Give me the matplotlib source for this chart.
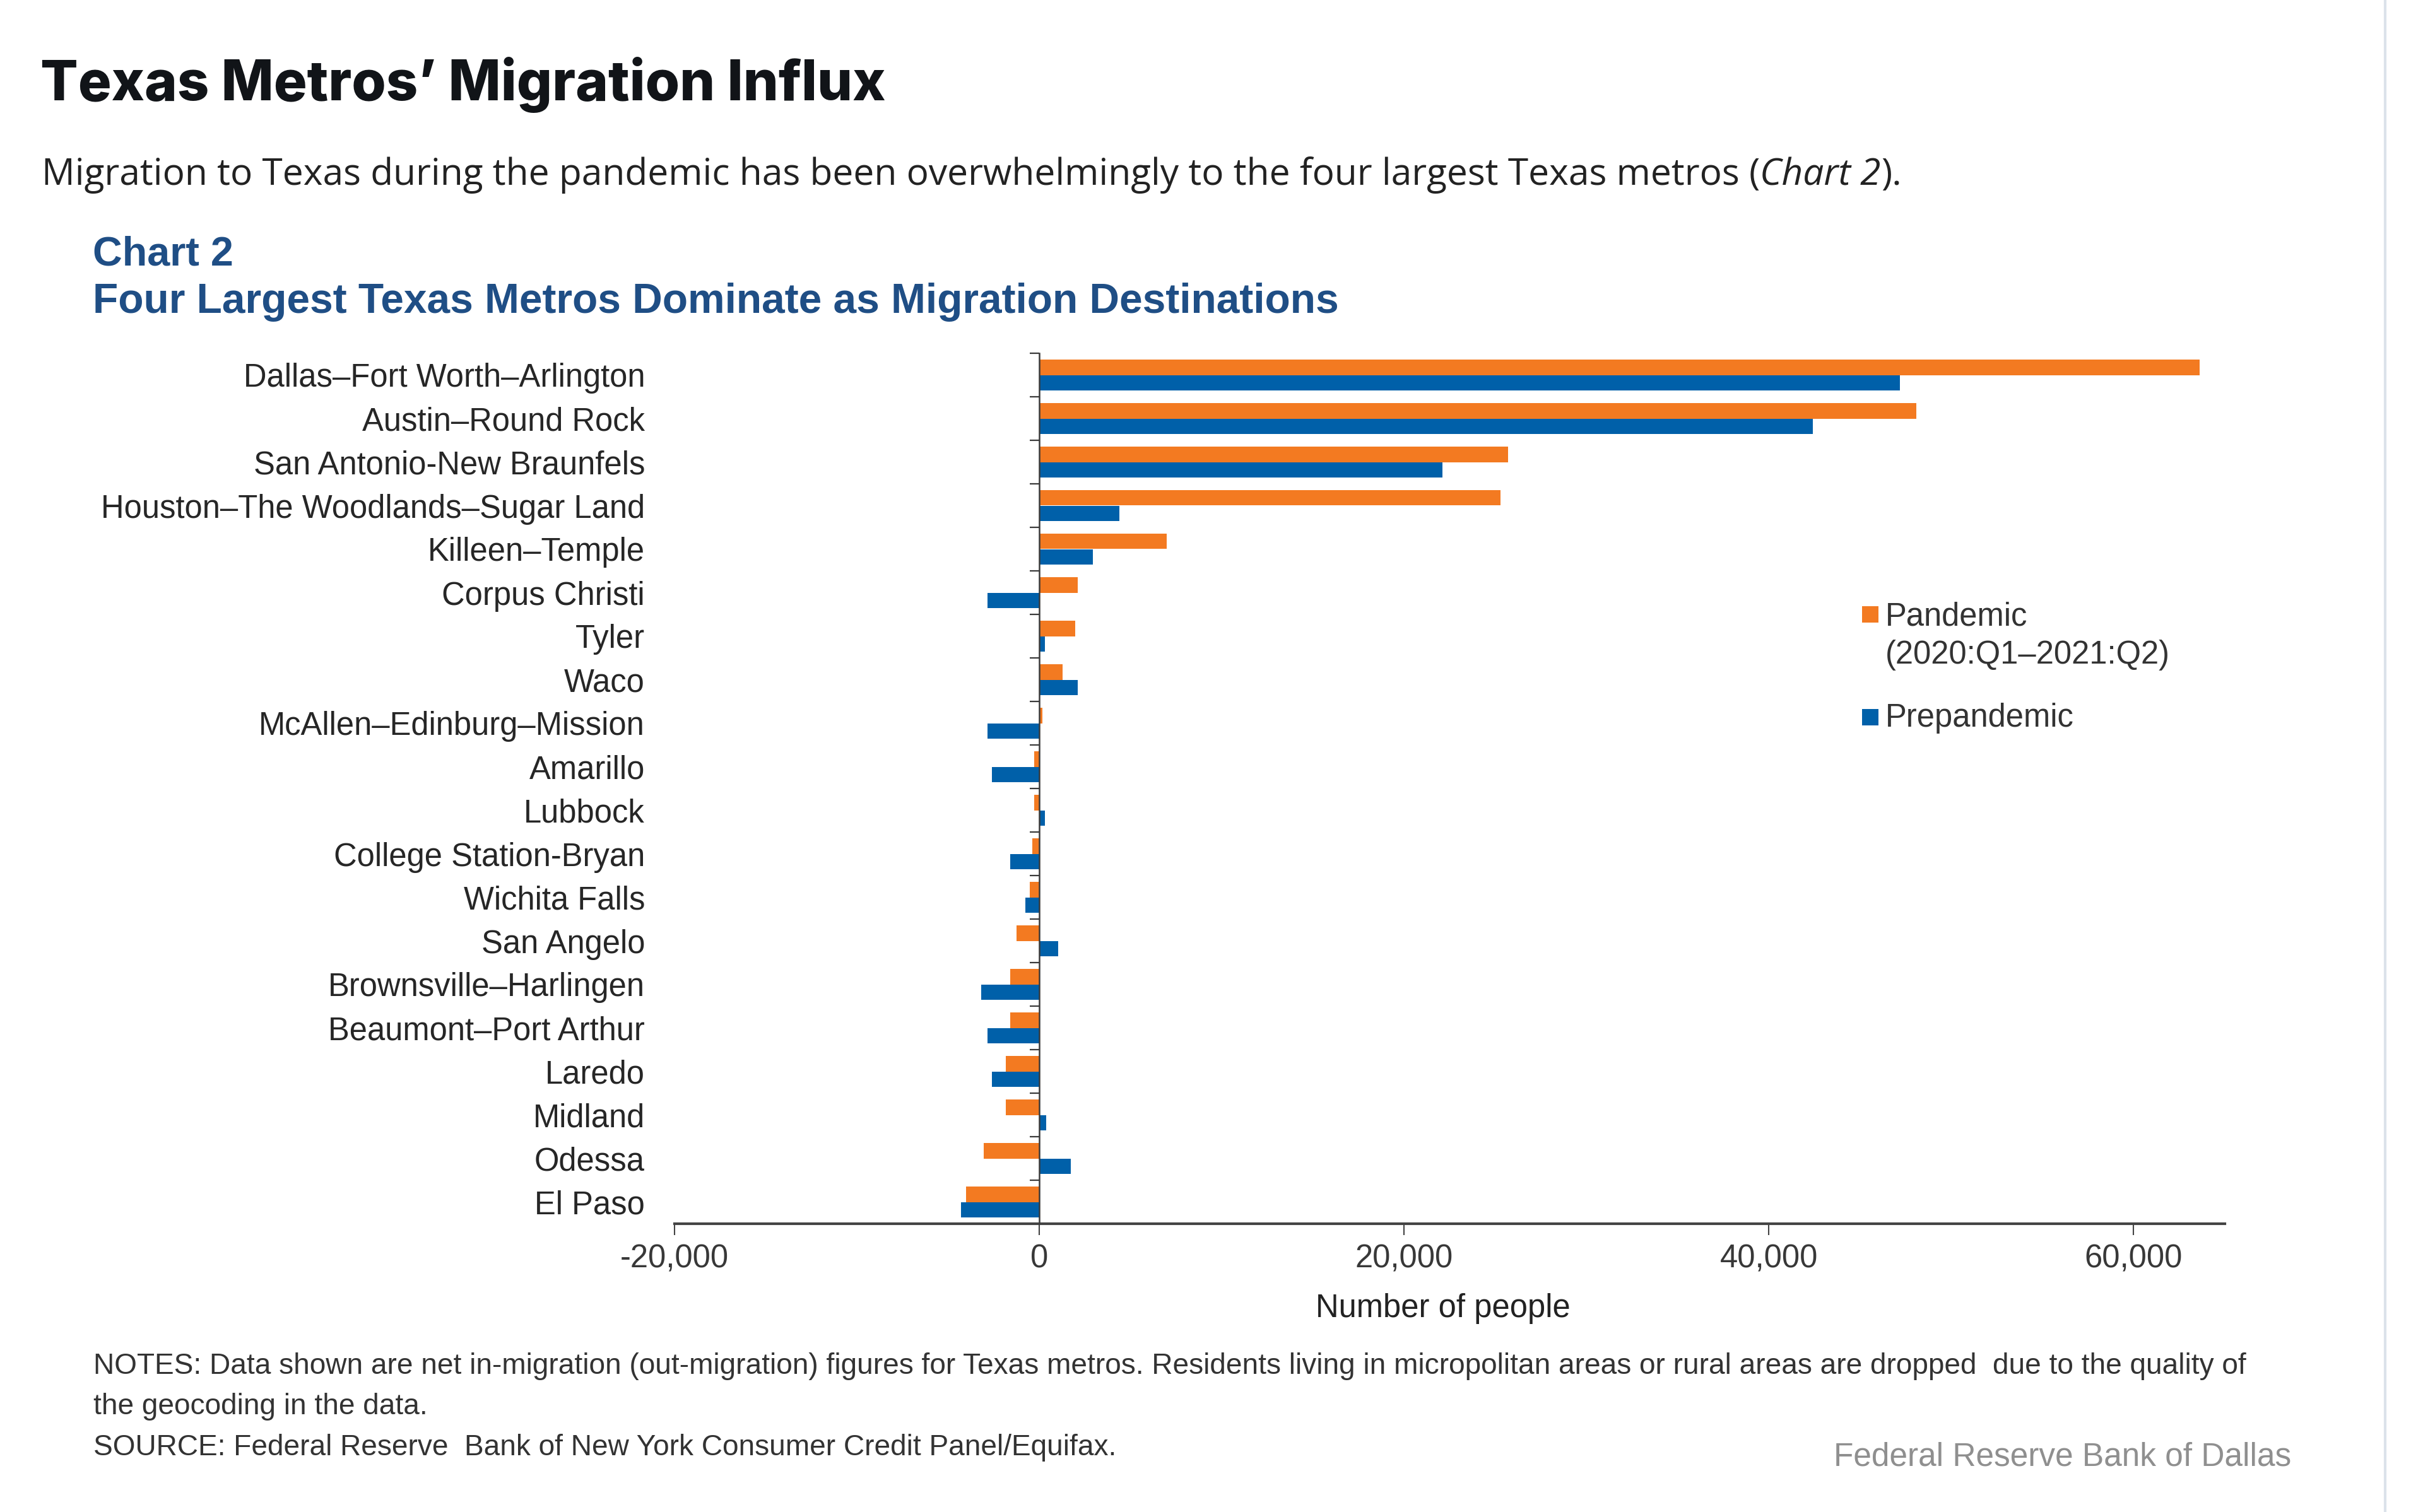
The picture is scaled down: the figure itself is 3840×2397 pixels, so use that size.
import matplotlib
matplotlib.use('Agg')
import matplotlib.pyplot as plt
import numpy as np
from matplotlib import font_manager
from matplotlib.patches import Rectangle
from matplotlib.lines import Line2D
from matplotlib.ticker import FuncFormatter, FixedLocator

# ---------------- data ----------------
categories = [
    "Dallas–Fort Worth–Arlington", "Austin–Round Rock", "San Antonio-New Braunfels",
    "Houston–The Woodlands–Sugar Land", "Killeen–Temple", "Corpus Christi", "Tyler",
    "Waco", "McAllen–Edinburg–Mission", "Amarillo", "Lubbock", "College Station-Bryan",
    "Wichita Falls", "San Angelo", "Brownsville–Harlingen", "Beaumont–Port Arthur",
    "Laredo", "Midland", "Odessa", "El Paso",
]
pandemic = [63600, 48100, 25700, 25300, 6970, 2120, 1980, 1270, 180, -280,
            -280, -390, -530, -1240, -1600, -1600, -1830, -1830, -3050, -4030]
prepandemic = [47200, 42400, 22100, 4380, 2950, -2830, 300, 2120, -2830, -2610,
               300, -1600, -760, 1030, -3200, -2830, -2610, 390, 1730, -4290]
xticks = [-20000, 0, 20000, 40000, 60000]
legend_lines = ["Pandemic", "(2020:Q1–2021:Q2)", "Prepandemic"]

title = "Texas Metros’ Migration Influx"
intro = ["Migration to Texas during the pandemic has been overwhelmingly to the four largest Texas metros (",
         "Chart 2", ")."]
chart_no = "Chart 2"
chart_title = "Four Largest Texas Metros Dominate as Migration Destinations"
xlabel = "Number of people"
notes = ["NOTES: Data shown are net in-migration (out-migration) figures for Texas metros. Residents living in micropolitan areas or rural areas are dropped  due to the quality of",
         "the geocoding in the data.",
         "SOURCE: Federal Reserve  Bank of New York Consumer Credit Panel/Equifax."]
credit = "Federal Reserve Bank of Dallas"

ORANGE = '#F37A21'
BLUE = '#0060A9'
NAVY = '#1F4E85'

# ---------------- fonts ----------------
names = {f.name for f in font_manager.fontManager.ttflist}
def pick(*cands):
    for c in cands:
        if c in names:
            return c
    return 'DejaVu Sans'
SANS = pick('Liberation Sans', 'Arial', 'DejaVu Sans')
NARROW = pick('Liberation Sans Narrow', 'Arial Narrow', 'Liberation Sans')
TITLEF = pick('Inter', 'Lato', 'Open Sans')
BODY = pick('Open Sans', 'Noto Sans', 'Lato')

W, H = 3840, 2397
fig = plt.figure(figsize=(W / 100, H / 100), dpi=100)
fig.patch.set_facecolor('white')
renderer = fig.canvas.get_renderer()

def pw(t):
    return t.get_window_extent(renderer).width

def fit(t, target):
    t.set_fontsize(t.get_fontsize() * target / pw(t))

# ---------------- header ----------------
t = fig.text(64 / W, 1 - 159 / H, title, fontsize=60, fontweight=800,
             family=TITLEF, color='#111418', va='baseline')
fit(t, 1339)

pieces = []
for i, s in enumerate(intro):
    pieces.append(fig.text(66 / W, 1 - 293 / H, s, fontsize=40, family=BODY,
                           style='italic' if i == 1 else 'normal',
                           color='#222222', va='baseline'))
tot = sum(pw(p) for p in pieces)
scale = 2941 / tot
x = 66
for p in pieces:
    p.set_fontsize(p.get_fontsize() * scale)
    p.set_x(x / W)
    x += pw(p)

t = fig.text(147 / W, 1 - 421 / H, chart_no, fontsize=50, fontweight='bold',
             family=NARROW, color=NAVY, va='baseline')
fit(t, 223)
t = fig.text(147 / W, 1 - 496 / H, chart_title, fontsize=50, fontweight='bold',
             family=NARROW, color=NAVY, va='baseline')
fit(t, 1975)

# ---------------- axes ----------------
ax = fig.add_axes([1069 / W, 1 - 1940 / H, (3526 - 1069) / W, (1940 - 560) / H])
y = np.arange(len(categories))
h = 0.36
ax.barh(y - h / 2, pandemic, height=h, color=ORANGE, linewidth=0, zorder=2)
ax.barh(y + h / 2, prepandemic, height=h, color=BLUE, linewidth=0, zorder=2)
ax.set_ylim(len(categories) - 0.5, -0.5)
ax.set_xlim(-20000, 65000)

ax.spines['left'].set_position(('data', 0))
ax.spines['top'].set_visible(False)
ax.spines['right'].set_visible(False)
ax.spines['left'].set_linewidth(1.8)
ax.spines['left'].set_color('#3a3a3a')
ax.spines['left'].set_zorder(3)
ax.spines['bottom'].set_linewidth(3)
ax.spines['bottom'].set_color('#444444')

ax.yaxis.set_major_locator(FixedLocator([]))
ax.yaxis.set_minor_locator(FixedLocator(np.arange(-0.5, len(categories), 1)))
ax.tick_params(axis='y', which='minor', length=11, width=1.6, color='#3a3a3a', direction='out')
ax.tick_params(axis='y', which='major', length=0, labelleft=False)

ax.set_xticks(xticks)
ax.xaxis.set_major_formatter(FuncFormatter(lambda v, p: f"{v:,.0f}"))
ax.tick_params(axis='x', length=13, width=1.5, color='#444444', pad=10,
               labelsize=36.5, labelcolor='#383838')
for lab in ax.get_xticklabels():
    lab.set_family(SANS)

for i, c in enumerate(categories):
    ax.text(-0.0191, i, c, transform=ax.get_yaxis_transform(), ha='right',
            va='center_baseline', fontsize=36.5, family=SANS, color='#262626')

fig.text(2287 / W, 1 - 2088 / H, xlabel, ha='center', va='baseline',
         fontsize=36.5, family=SANS, color='#222222')

# ---------------- legend ----------------
sq = 26
fig.add_artist(Rectangle((2951 / W, 1 - 987 / H), sq / W, sq / H, transform=fig.transFigure,
                         facecolor=ORANGE, edgecolor='none'))
fig.add_artist(Rectangle((2951 / W, 1 - 1150 / H), sq / W, sq / H, transform=fig.transFigure,
                         facecolor=BLUE, edgecolor='none'))
for s, yb in zip(legend_lines, [991, 1052, 1152]):
    fig.text(2988 / W, 1 - yb / H, s, fontsize=36.5, family=SANS, color='#333333', va='baseline')

# ---------------- notes ----------------
src = fig.text(148 / W, 1 - 2307 / H, notes[2], fontsize=32, family=SANS,
               color='#333333', va='baseline')
fit(src, 1621)
nfs = src.get_fontsize()
fig.text(148 / W, 1 - 2178 / H, notes[0], fontsize=nfs, family=SANS, color='#333333', va='baseline')
fig.text(148 / W, 1 - 2242 / H, notes[1], fontsize=nfs, family=SANS, color='#333333', va='baseline')
fig.text(3631 / W, 1 - 2324 / H, credit, ha='right', va='baseline', fontsize=37,
         family=SANS, color='#8f8f8f')

fig.add_artist(Line2D([3780 / W, 3780 / W], [0, 1], transform=fig.transFigure,
                      color='#dce2ea', lw=3))

fig.savefig('out.png', dpi=100, facecolor='white')
